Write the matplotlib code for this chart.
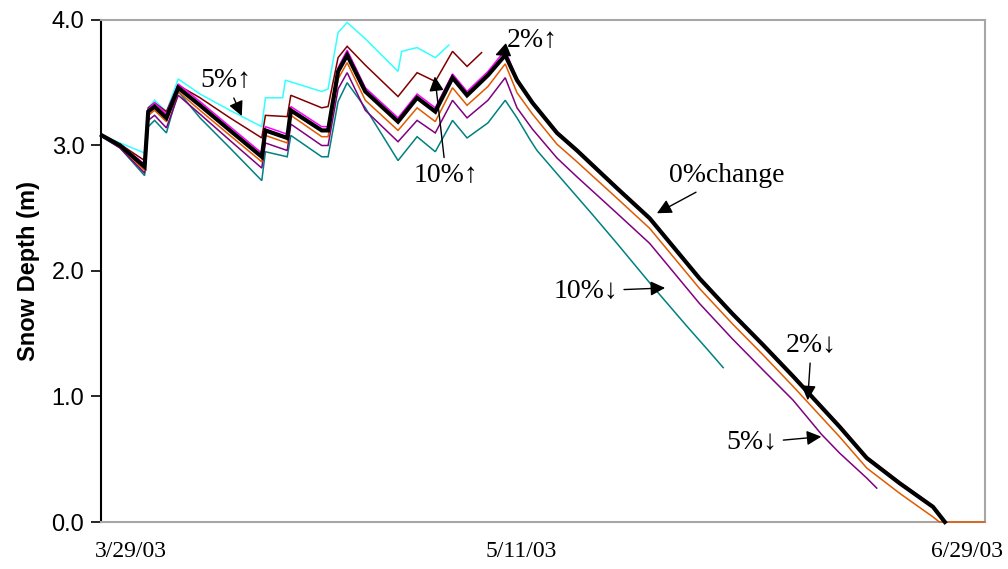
import datetime as dt
import matplotlib
matplotlib.use("Agg")
import matplotlib.pyplot as plt

# Snow depth sensitivity runs, days counted from 3/29/03
base_date = dt.date(2003, 3, 29)
tick_labels = ["3/29/03", "5/11/03", "6/29/03"]

acc_days = [-3.2, -1.2, 1.5, 1.9, 2.6, 3.9, 5.2, 7.6, 10.9, 14.4, 14.8, 17.2, 17.6,
            21.0, 21.7, 22.8, 23.8, 25.8, 29.4, 31.5, 33.5, 35.4, 37.0, 39.3, 41.2]
melt_days = [42.5, 44.2, 46.9, 49.1, 53.5, 57.1, 62.6, 66.2, 69.6, 72.9, 78.0,
             81.0, 84.6, 88.3]

# 0% change (base run)
base_days = acc_days + melt_days + [89.6]
base_depth = [3.08, 3.00, 2.83, 3.27, 3.31, 3.22, 3.46, 3.32, 3.12, 2.91, 3.12, 3.06, 3.28,
              3.12, 3.12, 3.59, 3.72, 3.43, 3.19, 3.38, 3.27, 3.54, 3.40, 3.56, 3.72,
              3.52, 3.34, 3.10, 2.96, 2.66, 2.42, 1.94, 1.66, 1.41, 1.16, 0.76,
              0.51, 0.31, 0.12, 0.0]

# 2% up
up2_days = acc_days + melt_days + [89.7]
up2_depth = [3.08, 3.01, 2.85, 3.29, 3.34, 3.25, 3.49, 3.35, 3.15, 2.94, 3.15, 3.09, 3.31,
             3.15, 3.15, 3.62, 3.76, 3.46, 3.22, 3.41, 3.30, 3.57, 3.43, 3.59, 3.76,
             3.53, 3.35, 3.11, 2.97, 2.67, 2.43, 1.95, 1.67, 1.42, 1.17, 0.77,
             0.52, 0.32, 0.13, 0.0]

# 2% down
dn2_days = acc_days + melt_days + [89.0, 94.0]
dn2_depth = [3.08, 2.99, 2.80, 3.24, 3.28, 3.19, 3.43, 3.28, 3.08, 2.87, 3.08, 3.02, 3.24,
             3.07, 3.07, 3.53, 3.66, 3.36, 3.12, 3.30, 3.19, 3.46, 3.32, 3.47, 3.65,
             3.42, 3.25, 3.01, 2.87, 2.58, 2.34, 1.86, 1.58, 1.33, 1.08, 0.68,
             0.43, 0.23, 0.04, 0.0, 0.0]

# 5% down
dn5_days = acc_days + [42.5, 44.2, 46.9, 49.1, 53.5, 57.1, 62.6, 66.2, 69.6, 72.9,
                       76.0, 78.0, 81.0, 82.1]
dn5_depth = [3.07, 2.98, 2.78, 3.20, 3.24, 3.14, 3.40, 3.25, 3.04, 2.82, 3.02, 2.96, 3.17,
             3.00, 3.00, 3.45, 3.58, 3.28, 3.03, 3.20, 3.10, 3.36, 3.22, 3.36, 3.54,
             3.30, 3.13, 2.90, 2.75, 2.46, 2.22, 1.74, 1.46, 1.21, 0.97, 0.70,
             0.55, 0.35, 0.27]

# 10% down
dn10_days = acc_days + [42.5, 43.9, 44.7, 47.2, 50.8, 53.5, 57.4, 61.2, 63.4, 65.2]
dn10_depth = [3.07, 2.98, 2.76, 3.15, 3.20, 3.10, 3.43, 3.22, 2.98, 2.72, 2.95, 2.91, 3.08,
              2.91, 2.91, 3.35, 3.50, 3.30, 2.88, 3.07, 2.95, 3.20, 3.06, 3.18, 3.36,
              3.22, 3.05, 2.96, 2.75, 2.45, 2.22, 1.88, 1.56, 1.38, 1.23]

# 5% up (dark red)
up5_days = acc_days[:23] + [38.6]
up5_depth = [3.08, 3.01, 2.88, 3.30, 3.34, 3.27, 3.48, 3.38, 3.22, 3.06, 3.24, 3.23, 3.40,
             3.30, 3.31, 3.70, 3.79, 3.64, 3.39, 3.58, 3.51, 3.75, 3.63, 3.74]

# 10% up (cyan)
up10_days = [-3.2, -1.2, 1.5, 1.9, 2.6, 3.9, 5.2, 7.6, 10.9, 14.4, 14.8, 16.7, 17.0,
             21.0, 21.7, 22.8, 23.8, 25.8, 29.4, 29.8, 31.5, 33.5, 35.0]
up10_depth = [3.08, 3.02, 2.94, 3.30, 3.36, 3.27, 3.53, 3.41, 3.28, 3.15, 3.38, 3.38, 3.52,
              3.43, 3.45, 3.90, 3.98, 3.85, 3.59, 3.75, 3.78, 3.70, 3.80]

series = [
    (up10_days, up10_depth, "#33ffff", 1.1),
    (up5_days, up5_depth, "#800000", 1.1),
    (dn10_days, dn10_depth, "#008080", 1.1),
    (dn5_days, dn5_depth, "#800080", 1.1),
    (up2_days, up2_depth, "#ff00ff", 1.1),
    (dn2_days, dn2_depth, "#e05a00", 1.1),
    (base_days, base_depth, "black", 3.0),
]

fig = plt.figure(figsize=(10.08, 5.69), dpi=100)
ax = fig.add_axes([0.1002, 0.0826, 0.8768, 0.8823])

for d, v, c, lw in series:
    ax.plot(d, v, color=c, lw=lw, solid_joinstyle="miter", zorder=3, clip_on=False)

ax.set_xlim(-3.3, 94.0)
ax.set_ylim(0, 4.0)

# x ticks from the date labels
tick_days = [(dt.datetime.strptime(t, "%m/%d/%y").date() - base_date).days for t in tick_labels]
ax.set_xticks(tick_days)
ax.set_xticklabels(tick_labels, family=["Liberation Serif", "DejaVu Serif"], fontsize=17)
ax.tick_params(axis="x", length=0, pad=14)

ax.set_yticks([0, 1, 2, 3, 4])
ax.set_yticklabels(["%.1f" % t for t in [0, 1, 2, 3, 4]], family="Liberation Sans", fontsize=17)
ax.tick_params(axis="y", length=7, width=1.2, direction="out", pad=5)
ax.set_ylabel("Snow Depth (m)", family="Liberation Sans", fontweight="bold", fontsize=17, labelpad=8)

for s in ["top", "right", "bottom"]:
    ax.spines[s].set_color("#a6a6a6")
    ax.spines[s].set_linewidth(1.5)
ax.spines["left"].set_color("black")
ax.spines["left"].set_linewidth(1.5)

# callouts
serif = ["Liberation Serif", "DejaVu Serif"]
arrow = dict(arrowstyle="-|>", color="black", lw=1.0, mutation_scale=22, shrinkA=2, shrinkB=0)
notes = [
    ("5%\u2191", (12.2, 3.235), (10.45, 3.52)),
    ("10%\u2191", (33.45, 3.55), (34.7, 2.76)),
    ("2%\u2191", (40.1, 3.72), (44.2, 3.84)),
    ("0%change", (57.9, 2.46), (65.6, 2.76)),
    ("10%\u2193", (58.8, 1.865), (50.1, 1.84)),
    ("2%\u2193", (74.5, 0.97), (74.9, 1.41)),
    ("5%\u2193", (76.0, 0.68), (68.4, 0.63)),
]
for txt, tip, pos in notes:
    ax.annotate(txt, xy=tip, xytext=pos, ha="center", va="center", fontsize=20,
                family=serif, arrowprops=arrow)

fig.savefig("out.png", dpi=100)
